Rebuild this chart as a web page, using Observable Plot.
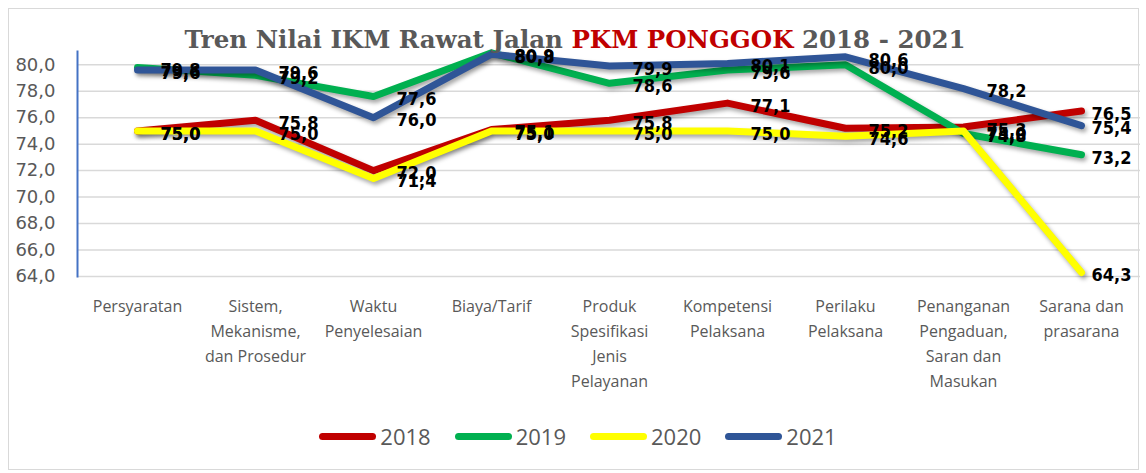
<!DOCTYPE html>
<html>
<head>
<meta charset="utf-8">
<script src="https://cdn.jsdelivr.net/npm/d3@7"></script>
<script src="https://cdn.jsdelivr.net/npm/@observablehq/plot@0.6"></script>
<style>
  html, body { margin: 0; padding: 0; background: #fff; }
  #wrap { position: relative; width: 1146px; height: 473px; overflow: hidden; }
  #border { position: absolute; left: 8px; top: 8px; width: 1131px; height: 462px; border: 1px solid #D9D9D9; box-sizing: border-box; }
  #chart { position: absolute; left: 0; top: 0; }
  #title { position: absolute; left: 0; width: 1150px; top: 24px; text-align: center;
           font-family: "DejaVu Serif", serif; font-weight: bold; font-size: 24.5px; color: #595959; white-space: nowrap; line-height: 32px; }
  #title .hl { color: #C00000; }
  #legend { position: absolute; left: 0; width: 1156px; top: 421px; display: flex; justify-content: center; gap: 24px;
            font-family: "Open Sans", sans-serif; font-size: 22px; color: #595959; }
  .item { display: flex; align-items: center; gap: 4px; }
  .sw { width: 57px; height: 7px; border-radius: 4px; }
</style>
</head>
<body>
<div id="wrap">
  <div id="border"></div>
  <div id="chart"></div>
  <div id="title"></div>
  <div id="legend"></div>
</div>
<script>
const categories = [
  "Persyaratan",
  "Sistem, Mekanisme, dan Prosedur",
  "Waktu Penyelesaian",
  "Biaya/Tarif",
  "Produk Spesifikasi Jenis Pelayanan",
  "Kompetensi Pelaksana",
  "Perilaku Pelaksana",
  "Penanganan Pengaduan, Saran dan Masukan",
  "Sarana dan prasarana"
];
const tickLabels = [
  "Persyaratan",
  "Sistem,\nMekanisme,\ndan Prosedur",
  "Waktu\nPenyelesaian",
  "Biaya/Tarif",
  "Produk\nSpesifikasi\nJenis\nPelayanan",
  "Kompetensi\nPelaksana",
  "Perilaku\nPelaksana",
  "Penanganan\nPengaduan,\nSaran dan\nMasukan",
  "Sarana dan\nprasarana"
];
const years = ["2018", "2019", "2020", "2021"];
const values2018 = [75.0, 75.8, 72.0, 75.1, 75.8, 77.1, 75.2, 75.3, 76.5];
const values2019 = [79.8, 79.2, 77.6, 80.9, 78.6, 79.6, 80.0, 74.8, 73.2];
const values2020 = [75.0, 75.0, 71.4, 75.0, 75.0, 75.0, 74.6, 75.0, 64.3];
const values2021 = [79.6, 79.6, 76.0, 80.8, 79.9, 80.1, 80.6, 78.2, 75.4];
const colors = ["#C00000", "#00B050", "#FFFF00", "#2F5597"];
const yTicks = [64, 66, 68, 70, 72, 74, 76, 78, 80];
const titleParts = ["Tren Nilai IKM Rawat Jalan ", "PKM PONGGOK", " 2018 - 2021"];

const seriesValues = [values2018, values2019, values2020, values2021];
const data = [];
years.forEach((yr, i) => {
  categories.forEach((c, j) => data.push({year: yr, cat: c, value: seriesValues[i][j], last: j === categories.length - 1}));
});
const fmt = d => d.toFixed(1).replace(".", ",");
const labelFont = "DejaVu Sans Condensed, DejaVu Sans, sans-serif";

const chart = Plot.plot({
  width: 1146,
  height: 400,
  marginLeft: 77,
  marginRight: 6,
  marginTop: 51,
  marginBottom: 124,
  style: {background: "transparent", overflow: "visible"},
  x: {type: "point", domain: categories, padding: 0.5, label: null},
  y: {domain: [64, 81], label: null},
  color: {domain: years, range: colors},
  marks: [
    Plot.gridY(yTicks, {stroke: "#D9D9D9", strokeOpacity: 1, strokeWidth: 1.5}),
    Plot.axisY(yTicks, {tickSize: 0, tickPadding: 22, tickFormat: fmt, fontSize: 18, fill: "#595959",
      fontFamily: "DejaVu Sans, sans-serif", label: null}),
    Plot.axisX({tickSize: 0, tickPadding: 18, fontSize: 16, fill: "#595959", lineHeight: 1.55,
      fontFamily: "Open Sans, sans-serif", label: null, tickFormat: d => tickLabels[categories.indexOf(d)]}),
    Plot.frame({anchor: "left", stroke: "#4472C4", strokeWidth: 2}),
    Plot.line(data, {x: "cat", y: "value", z: "year", stroke: "year", strokeWidth: 7,
      strokeLinejoin: "round", strokeLinecap: "round", className: "series-line"}),
    Plot.text(data.filter(d => !d.last), {x: "cat", y: "value", text: d => fmt(d.value), textAnchor: "start",
      dx: 23, dy: 3, fontSize: 18, fontWeight: "bold", fill: "#000", fontFamily: labelFont}),
    Plot.text(data.filter(d => d.last), {x: "cat", y: "value", text: d => fmt(d.value), textAnchor: "start",
      dx: 10, dy: 3, fontSize: 18, fontWeight: "bold", fill: "#000", fontFamily: labelFont})
  ]
});
chart.querySelectorAll(".series-line path, g.series-line path").forEach(p => {
  p.style.filter = "drop-shadow(2px 3px 2px rgba(0,0,0,0.35))";
});
document.getElementById("chart").appendChild(chart);

const t = document.getElementById("title");
titleParts.forEach((s, i) => {
  const span = document.createElement("span");
  span.textContent = s;
  if (i === 1) span.className = "hl";
  t.appendChild(span);
});

const lg = document.getElementById("legend");
years.forEach((yr, i) => {
  const it = document.createElement("div");
  it.className = "item";
  const sw = document.createElement("div");
  sw.className = "sw";
  sw.style.background = colors[i];
  const tx = document.createElement("span");
  tx.textContent = yr;
  it.appendChild(sw); it.appendChild(tx);
  lg.appendChild(it);
});
</script>
</body>
</html>
